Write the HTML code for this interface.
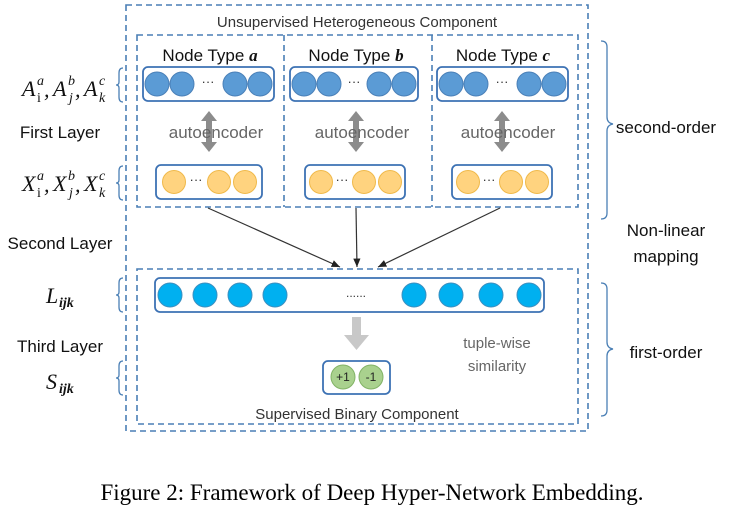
<!DOCTYPE html>
<html><head><style>body{margin:0;background:#fff}svg{display:block}</style></head><body>
<svg width="743" height="511" viewBox="0 0 743 511" xmlns="http://www.w3.org/2000/svg" font-family="Liberation Sans, sans-serif">
<defs>
<marker id="ah" markerWidth="8" markerHeight="8" refX="7" refY="4" orient="auto"><path d="M0,1 L7,4 L0,7 z" fill="#222"/></marker>
</defs>
<g fill="none" stroke="#4a7fb5" stroke-width="1.6" stroke-dasharray="6,4">
<rect x="126" y="5" width="462" height="426"/>
<rect x="137" y="35" width="441" height="172"/>
<line x1="284" y1="35" x2="284" y2="207"/>
<line x1="432" y1="35" x2="432" y2="207"/>
<rect x="137" y="269" width="441" height="155"/>
</g>
<text x="357" y="27" font-size="15" text-anchor="middle" fill="#333">Unsupervised Heterogeneous Component</text>
<g font-size="17" fill="#111" text-anchor="middle">
<text x="210" y="61">Node Type <tspan font-family="Liberation Serif" font-style="italic" font-weight="bold">a</tspan></text>
<text x="356" y="61">Node Type <tspan font-family="Liberation Serif" font-style="italic" font-weight="bold">b</tspan></text>
<text x="503" y="61">Node Type <tspan font-family="Liberation Serif" font-style="italic" font-weight="bold">c</tspan></text>
</g>
<g fill="none" stroke="#3d72b4" stroke-width="1.8">
<rect x="143" y="67" width="131" height="34" rx="5"/>
<rect x="290" y="67" width="128" height="34" rx="5"/>
<rect x="437" y="67" width="131" height="34" rx="5"/>
<rect x="156" y="165" width="106" height="34" rx="5"/>
<rect x="305" y="165" width="100" height="34" rx="5"/>
<rect x="452" y="165" width="100" height="34" rx="5"/>
<rect x="155" y="278" width="389" height="34" rx="5"/>
<rect x="323" y="361" width="67" height="33" rx="5"/>
</g>
<g fill="#5b9bd5" stroke="#4a80b8">
<circle cx="157" cy="84" r="12"/><circle cx="182" cy="84" r="12"/><circle cx="235" cy="84" r="12"/><circle cx="260" cy="84" r="12"/>
<circle cx="304" cy="84" r="12"/><circle cx="329" cy="84" r="12"/><circle cx="379" cy="84" r="12"/><circle cx="404" cy="84" r="12"/>
<circle cx="451" cy="84" r="12"/><circle cx="476" cy="84" r="12"/><circle cx="529" cy="84" r="12"/><circle cx="554" cy="84" r="12"/>
</g>
<g fill="#ffd37f" stroke="#f0b94a">
<circle cx="174" cy="182" r="11.5"/><circle cx="219" cy="182" r="11.5"/><circle cx="245" cy="182" r="11.5"/>
<circle cx="321" cy="182" r="11.5"/><circle cx="364" cy="182" r="11.5"/><circle cx="390" cy="182" r="11.5"/>
<circle cx="468" cy="182" r="11.5"/><circle cx="511" cy="182" r="11.5"/><circle cx="537" cy="182" r="11.5"/>
</g>
<g font-size="13" fill="#333" text-anchor="middle">
<text x="208" y="86">···</text><text x="354" y="86">···</text><text x="502" y="86">···</text>
<text x="196" y="184">···</text><text x="342" y="184">···</text><text x="489" y="184">···</text>
</g>
<g fill="#8c8c8c">
<path d="M209,111 l-8,10 h5 v21 h-5 l8,10 l8,-10 h-5 v-21 h5 z"/>
<path d="M356,111 l-8,10 h5 v21 h-5 l8,10 l8,-10 h-5 v-21 h5 z"/>
<path d="M502,111 l-8,10 h5 v21 h-5 l8,10 l8,-10 h-5 v-21 h5 z"/>
</g>
<g font-size="17" fill="#666" text-anchor="middle">
<text x="216" y="138">autoencoder</text><text x="362" y="138">autoencoder</text><text x="508" y="138">autoencoder</text>
</g>
<g stroke="#333" stroke-width="1.2" marker-end="url(#ah)">
<line x1="208" y1="208" x2="340" y2="267"/>
<line x1="356" y1="208" x2="357" y2="267"/>
<line x1="500" y1="208" x2="378" y2="267"/>
</g>
<g fill="#00b0f0" stroke="#3a8fc0">
<circle cx="170" cy="295" r="12"/><circle cx="205" cy="295" r="12"/><circle cx="240" cy="295" r="12"/><circle cx="275" cy="295" r="12"/>
<circle cx="414" cy="295" r="12"/><circle cx="451" cy="295" r="12"/><circle cx="491" cy="295" r="12"/><circle cx="529" cy="295" r="12"/>
</g>
<text x="356" y="297" font-size="12" fill="#333" text-anchor="middle">......</text>
<path d="M352,317 h9 v18 h8 l-12.5,15 l-12.5,-15 h8 z" fill="#c8c8c8"/>
<g fill="#a9d18e" stroke="#82b366"><circle cx="343" cy="377" r="12"/><circle cx="371" cy="377" r="12"/></g>
<g font-size="12" fill="#222" text-anchor="middle"><text x="343" y="381">+1</text><text x="371" y="381">-1</text></g>
<g font-size="15" fill="#666" text-anchor="middle"><text x="497" y="348">tuple-wise</text><text x="497" y="371">similarity</text></g>
<text x="357" y="419" font-size="15" fill="#333" text-anchor="middle">Supervised Binary Component</text>
<g fill="none" stroke="#4a7fb5" stroke-width="1.3">
<path d="M601,41 q6,0 6,6 v70 q0,6 6,7 q-6,1 -6,7 v82 q0,6 -6,6"/>
<path d="M601,283 q6,0 6,6 v53 q0,6 6,7 q-6,1 -6,7 v54 q0,6 -6,6"/>
<path d="M123,68 q-4,0 -4,5 v9 q0,3 -3,3 q3,0 3,3 v9 q0,5 4,5"/>
<path d="M123,166 q-4,0 -4,5 v9 q0,3 -3,3 q3,0 3,3 v9 q0,5 4,5"/>
<path d="M123,278 q-4,0 -4,5 v9 q0,3 -3,3 q3,0 3,3 v9 q0,5 4,5"/>
<path d="M123,361 q-4,0 -4,5 v9 q0,3 -3,3 q3,0 3,3 v9 q0,5 4,5"/>
</g>
<g font-size="17" fill="#111" text-anchor="middle">
<text x="666" y="133">second-order</text>
<text x="666" y="236">Non-linear</text><text x="666" y="262">mapping</text>
<text x="666" y="358">first-order</text>
<text x="60" y="138">First Layer</text>
<text x="60" y="249">Second Layer</text>
<text x="60" y="352">Third Layer</text>
</g>
<g font-family="Liberation Serif, serif" font-style="italic" fill="#111">
<g font-size="22">
<text x="22" y="96">A</text><text x="44" y="97">,</text><text x="53" y="96">A</text><text x="75" y="97">,</text><text x="84" y="96">A</text>
<text x="22" y="191">X</text><text x="44" y="192">,</text><text x="53" y="191">X</text><text x="75" y="192">,</text><text x="84" y="191">X</text>
<text x="46" y="303">L</text><text x="46" y="389">S</text>
</g>
<g font-size="14">
<text x="37" y="85">a</text><text x="68" y="85">b</text><text x="99" y="85">c</text>
<text x="37" y="102" font-style="normal">i</text><text x="69" y="102">j</text><text x="99" y="102">k</text>
<text x="37" y="180">a</text><text x="68" y="180">b</text><text x="99" y="180">c</text>
<text x="37" y="197" font-style="normal">i</text><text x="69" y="197">j</text><text x="99" y="197">k</text>
<text x="59" y="307" font-weight="bold">ijk</text><text x="59" y="393" font-weight="bold">ijk</text>
</g>
</g>
<text x="372" y="500" font-family="Liberation Serif, serif" font-size="23" fill="#000" text-anchor="middle">Figure 2: Framework of Deep Hyper-Network Embedding.</text>
</svg>
</body></html>
